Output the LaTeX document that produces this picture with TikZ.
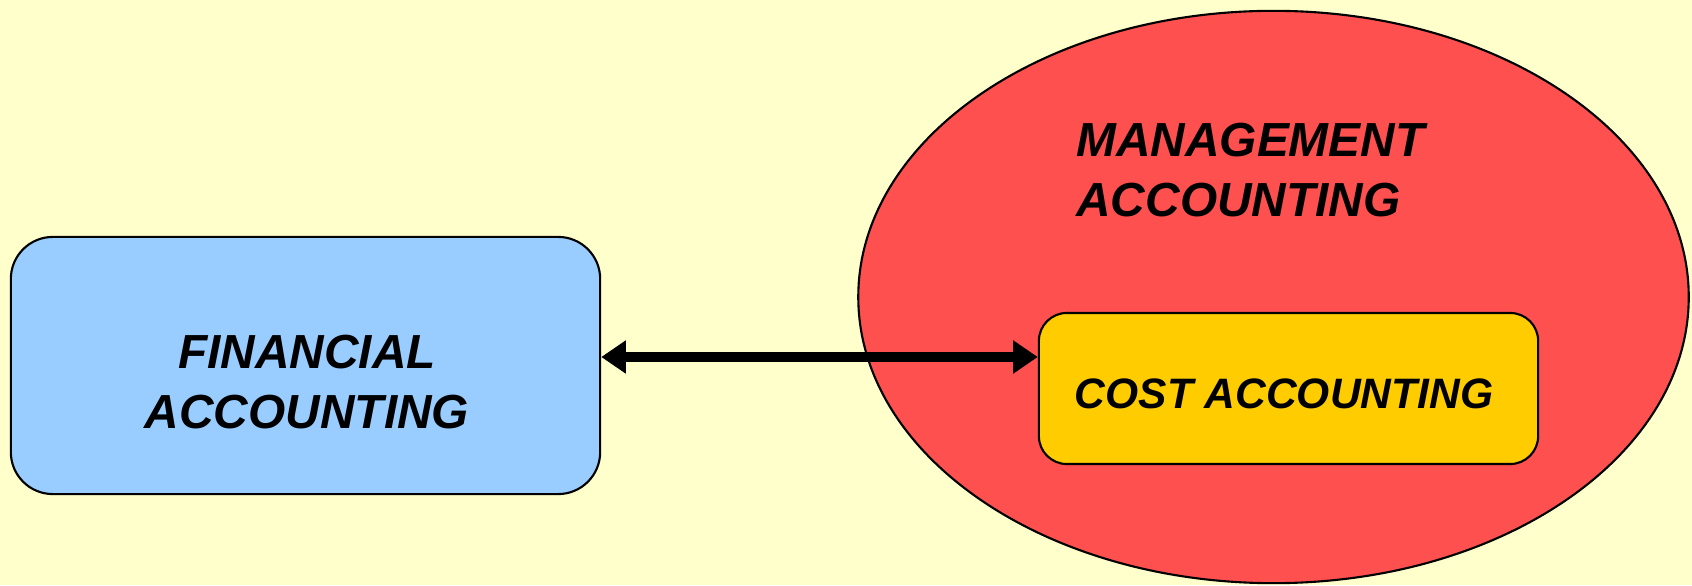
\documentclass[tikz,border=0pt]{standalone}
\usepackage{fontspec}
\setmainfont{Liberation Sans}
\usepackage{xcolor}
\usepackage{tikz}
\usetikzlibrary{arrows.meta,shapes.geometric}

\definecolor{bgyellow}{HTML}{FFFFCC}
\definecolor{finblue}{HTML}{99CCFF}
\definecolor{mgmtred}{HTML}{FF5050}
\definecolor{costyellow}{HTML}{FFCC00}

\tikzset{
  lbl/.style={font=\fontsize{13.6}{17}\selectfont\bfseries\itshape},
  box/.style={draw,line width=0.6pt,rounded corners=0.42cm,inner sep=0pt},
  link/.style={line width=2.6pt,{Triangle[length=7pt,width=9pt]}-{Triangle[length=7pt,width=9pt]}}
}

\begin{document}
\begin{tikzpicture}[x=0.01cm,y=0.01cm]
\fill[bgyellow] (0,0) rectangle (1692,585);
\useasboundingbox (0,0) rectangle (1692,585);
\node[draw,line width=0.6pt,fill=mgmtred,ellipse,minimum width=8.3cm,minimum height=5.72cm,inner sep=0pt] (mgmt) at (1273.5,288) {};
\node[box,fill=finblue,minimum width=5.89cm,minimum height=2.57cm] (fin) at (305.5,219.5) {};
\node[lbl,align=center] (finlbl) at (307,203) {FINANCIAL\\ACCOUNTING};
\node[box,fill=costyellow,minimum width=4.99cm,minimum height=1.51cm,rounded corners=0.28cm] (cost) at (1288.5,196.5) {};
\node[lbl,font=\fontsize{12.1}{15}\selectfont\bfseries\itshape] (costlbl) at (1284,191) {COST ACCOUNTING};
\node[lbl,align=left,anchor=west] (mgmtlbl) at (1064,415) {MANAGEMENT\\ACCOUNTING};
\coordinate (mid) at (0,228);
\draw[link] (fin.east |- mid) -- (cost.west |- mid);
\end{tikzpicture}
\end{document}
